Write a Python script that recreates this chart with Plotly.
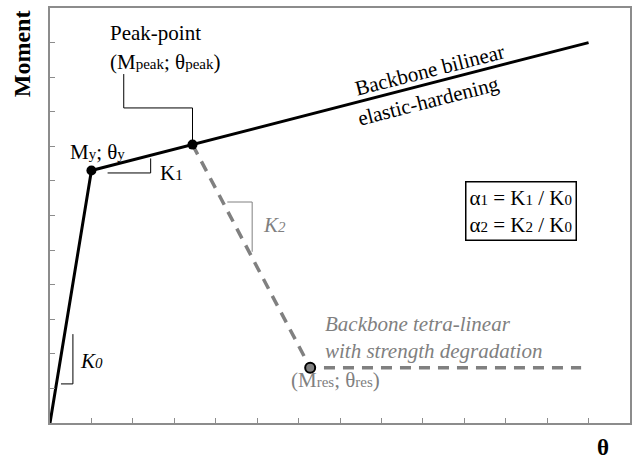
import plotly.graph_objects as go

# Backbone curves (rotation theta vs. moment, arbitrary units)
bilinear_theta = [0.0, 1.0, 13.0]
bilinear_moment = [0.0, 7.3, 11.0]

yield_theta = [1.0]
yield_moment = [7.3]

peak_theta = [3.44]
peak_moment = [8.05]

tetra_theta = [3.44, 6.28, 12.82]
tetra_moment = [8.05, 1.6, 1.6]

res_theta = [6.28]
res_moment = [1.6]

x_ticks = list(range(0, 15))
y_ticks = list(range(0, 13))

FONT = "Liberation Serif"
GREY = "#808080"
AX_GREY = "#8c8c8c"
FS = 21

fig = go.Figure()

fig.add_trace(go.Scatter(
    x=tetra_theta, y=tetra_moment, mode="lines",
    line=dict(color=GREY, width=3.5, dash="11px,8px"),
    hoverinfo="skip", showlegend=False))

fig.add_trace(go.Scatter(
    x=bilinear_theta, y=bilinear_moment, mode="lines",
    line=dict(color="black", width=3),
    hoverinfo="skip", showlegend=False))

fig.add_trace(go.Scatter(
    x=yield_theta + peak_theta, y=yield_moment + peak_moment, mode="markers",
    marker=dict(color="black", size=10),
    hoverinfo="skip", showlegend=False))

fig.add_trace(go.Scatter(
    x=res_theta, y=res_moment, mode="markers",
    marker=dict(color=GREY, size=10, line=dict(color="black", width=2)),
    hoverinfo="skip", showlegend=False))

# slope indicators and callout leader
thin_black = dict(color="black", width=1)
thin_grey = dict(color=GREY, width=1)
shapes = [
    # leader to the peak point
    dict(type="path", path="M 1.78,10.09 L 1.78,9.11 L 3.44,9.11 L 3.44,8.05",
         line=thin_black),
    # K1 triangle
    dict(type="path", path="M 1.39,7.23 L 2.43,7.23 L 2.43,7.65", line=thin_black),
    # K0 triangle
    dict(type="path", path="M 0.265,1.13 L 0.553,1.13 L 0.553,2.57", line=thin_black),
    # K2 triangle
    dict(type="path", path="M 4.28,6.39 L 4.88,6.39 L 4.88,4.95", line=thin_grey),
]

sub = lambda s: f"<span style='font-size:15px'>{s}</span>"

ann = [
    dict(x=2.55, y=11.28, text="Peak-point", font=dict(size=FS)),
    dict(x=2.77, y=10.44, text=f"(M{sub('peak')}; θ{sub('peak')})", font=dict(size=FS)),
    dict(x=1.155, y=7.84, text=f"M{sub('y')}; θ{sub('y')}", font=dict(size=FS)),
    dict(x=2.6, y=7.23, text=f"K{sub('1')}", xanchor="left", font=dict(size=FS)),
    dict(x=0.67, y=1.79, text=f"<i>K{sub('0')}</i>", xanchor="left", font=dict(size=FS)),
    dict(x=5.1, y=5.73, text=f"<i>K{sub('2')}</i>", xanchor="left",
         font=dict(size=FS, color=GREY)),
    dict(x=6.6, y=2.47, text="<i>Backbone tetra-linear<br>with strength degradation</i>",
         xanchor="left", align="left", font=dict(size=FS, color=GREY)),
    dict(x=5.77, y=1.24, text=f"(M{sub('res')}; θ{sub('res')})", xanchor="left",
         font=dict(size=FS, color=GREY)),
    dict(x=9.17, y=10.22, text="Backbone bilinear", textangle=-14.3, font=dict(size=FS)),
    dict(x=9.14, y=9.3, text="elastic-hardening", textangle=-14.3, font=dict(size=FS)),
    dict(x=11.38, y=6.13,
         text=f"α{sub('1')} = K{sub('1')} / K{sub('0')}<br>α{sub('2')} = K{sub('2')} / K{sub('0')}",
         font=dict(size=FS), bordercolor="black", borderwidth=1.5, borderpad=3,
         bgcolor="white"),
]
for a in ann:
    a.setdefault("xref", "x")
    a.setdefault("yref", "y")
    a["showarrow"] = False
    f = a["font"]
    f.setdefault("family", FONT)
    f.setdefault("color", "black")
    fig.add_annotation(**a)

fig.add_annotation(xref="paper", yref="paper", x=-0.048, y=0.889, text="<b>Moment</b>",
                   textangle=-90, showarrow=False, xanchor="center", yanchor="middle",
                   font=dict(family=FONT, size=24, color="black"))
fig.add_annotation(xref="paper", yref="paper", x=0.954, y=-0.06, text="<b>θ</b>",
                   showarrow=False, xanchor="center", yanchor="middle",
                   font=dict(family=FONT, size=23, color="black"))

axis_common = dict(showgrid=False, zeroline=False, showticklabels=False,
                   ticks="inside", ticklen=5, tickcolor=AX_GREY, tickwidth=1,
                   showline=True, linecolor=AX_GREY, linewidth=1.5, mirror=True)

fig.update_layout(
    width=635, height=462,
    margin=dict(l=50, r=3, t=8, b=39),
    paper_bgcolor="white", plot_bgcolor="white",
    shapes=shapes,
    xaxis=dict(range=[0, 14], tickvals=x_ticks, **axis_common),
    yaxis=dict(range=[0, 12], tickvals=y_ticks, **axis_common),
)

fig.write_html("out.html")
